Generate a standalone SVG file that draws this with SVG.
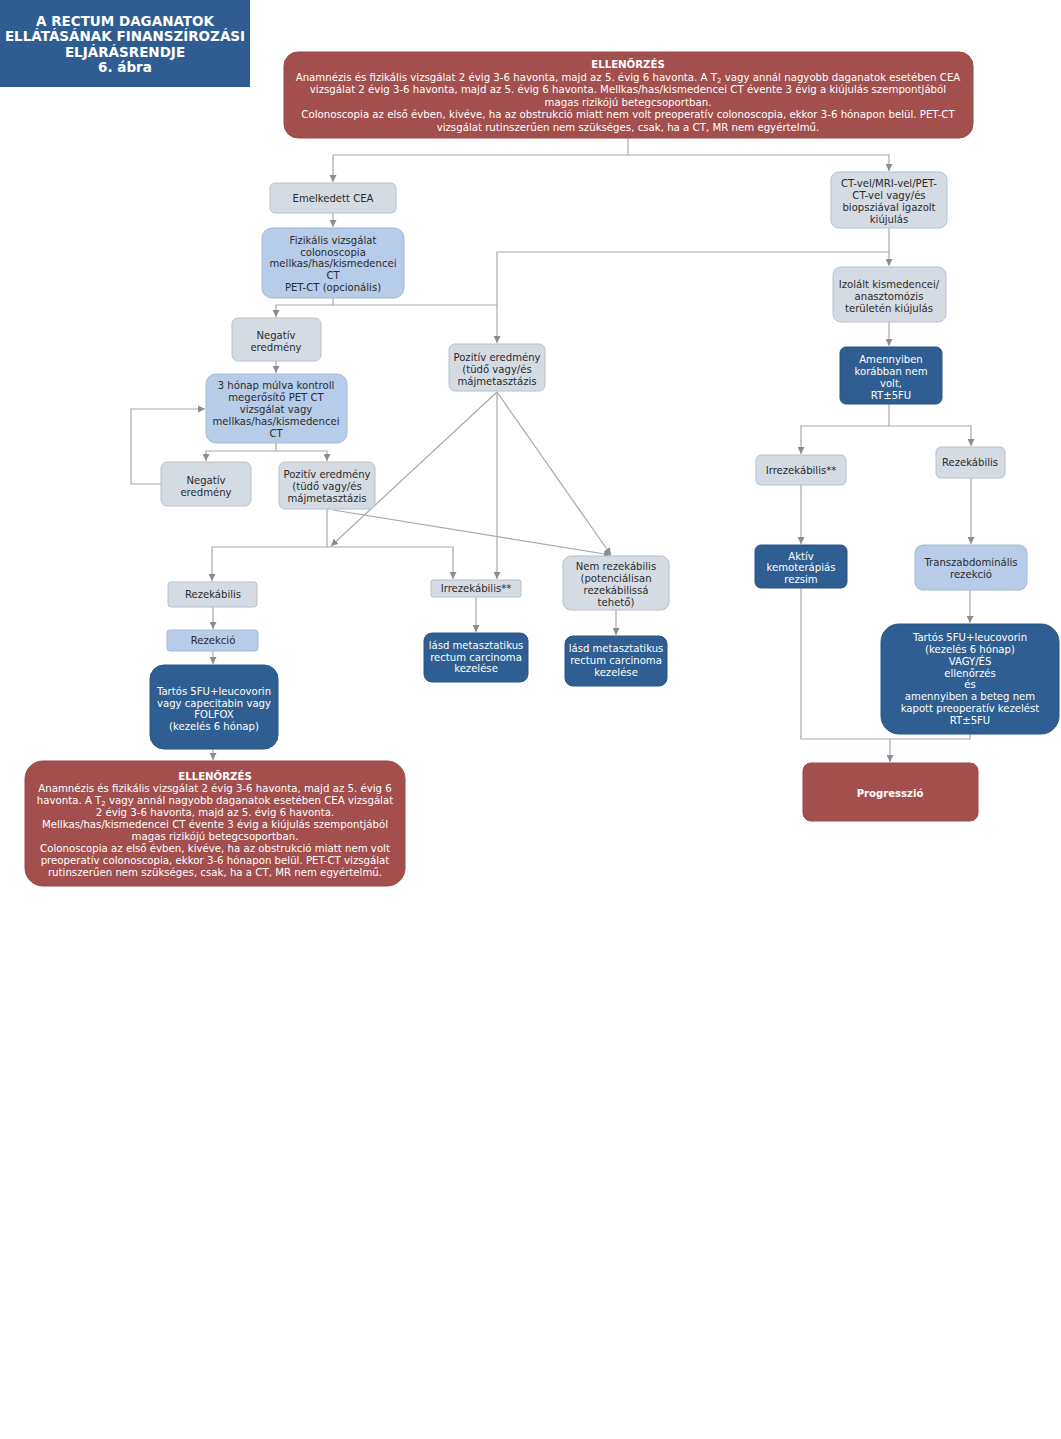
<svg xmlns="http://www.w3.org/2000/svg" width="1061" height="1439" viewBox="0 0 1061 1439">
<style>
text{font-family:"DejaVu Sans","Liberation Sans",sans-serif;text-anchor:middle}
.t{font-size:10.1px;fill:#2b2b2b}
.w{font-size:10.1px;fill:#ffffff}
.r{font-size:10.2px;fill:#ffffff}
.b{font-weight:bold}
.title{font-size:13.5px;font-weight:bold;fill:#ffffff}
.gray{fill:#D5DBE3;stroke:#B7C0CB;stroke-width:1}
.lb{fill:#B6CCE8;stroke:#A3BAD6;stroke-width:1}
.db{fill:#2F5E92;stroke:#2A5584;stroke-width:1}
.red{fill:#A24F4E;stroke:#9A4948;stroke-width:1}
.c{fill:none;stroke:#A8A8A8;stroke-width:1.2}
.a{marker-end:url(#ah)}
</style>
<defs>
<marker id="ah" viewBox="0 0 10 10" refX="10" refY="5" markerWidth="7" markerHeight="7" orient="auto" markerUnits="userSpaceOnUse">
<path d="M0,0 L10,5 L0,10 z" fill="#8C8C8C"/>
</marker>
</defs>
<rect width="1061" height="1439" fill="#ffffff"/>

<g id="title">
<rect x="0" y="0" width="250" height="87" fill="#2F5D91"/>
<text class="title" x="125" y="26">A RECTUM DAGANATOK</text>
<text class="title" x="125" y="41">ELLÁTÁSÁNAK FINANSZÍROZÁSI</text>
<text class="title" x="125" y="57">ELJÁRÁSRENDJE</text>
<text class="title" x="125" y="72">6. ábra</text>
</g>

<g id="connectors">
<path class="c" d="M628,138 V155"/>
<path class="c a" d="M628,155 H333 V182"/>
<path class="c a" d="M628,155 H889 V171"/>
<path class="c a" d="M333,213 V227"/>
<path class="c" d="M333,298 V305 H497"/>
<path class="c a" d="M333,305 H276 V317"/>
<path class="c a" d="M889,228 V266"/>
<path class="c a" d="M889,252 H497 V343"/>
<path class="c a" d="M276,361 V373"/>
<path class="c a" d="M276,443 V451 H206 V461"/>
<path class="c a" d="M276,451 H327 V461"/>
<path class="c a" d="M161,484 H131 V409 H205"/>
<path class="c a" d="M327,509 V547 H212 V581"/>
<path class="c a" d="M327,547 H453 V579"/>
<path class="c a" d="M333,510 L611,555"/>
<path class="c a" d="M497,392 L331,546"/>
<path class="c a" d="M497,392 V579"/>
<path class="c a" d="M497,392 L611,555"/>
<path class="c a" d="M476,597 V632"/>
<path class="c a" d="M616,610 V635"/>
<path class="c a" d="M213,607 V629"/>
<path class="c a" d="M213,651 V664"/>
<path class="c a" d="M213,749 V760"/>
<path class="c a" d="M889,322 V346"/>
<path class="c" d="M889,404 V426"/>
<path class="c a" d="M889,426 H801 V454"/>
<path class="c a" d="M889,426 H971 V446"/>
<path class="c a" d="M801,485 V544"/>
<path class="c a" d="M971,478 V544"/>
<path class="c a" d="M970,590 V623"/>
<path class="c" d="M801,588 V739 H970 V734"/>
<path class="c a" d="M890,739 V762"/>
</g>

<g id="n-ellenorzes-top">
<rect class="red" x="284" y="52" width="689" height="86" rx="14"/>
<text class="r b" x="628" y="68">ELLENŐRZÉS</text>
<text class="r" x="628" y="80.6">Anamnézis és fizikális vizsgálat 2 évig 3-6 havonta, majd az 5. évig 6 havonta. A T<tspan font-size="7" dy="2">2</tspan><tspan dy="-2"> vagy annál nagyobb daganatok esetében CEA</tspan></text>
<text class="r" x="628" y="93.2">vizsgálat  2 évig 3-6 havonta, majd az 5. évig 6 havonta. Mellkas/has/kismedencei CT évente 3 évig a kiújulás szempontjából</text>
<text class="r" x="628" y="105.8">magas rizikójú betegcsoportban.</text>
<text class="r" x="628" y="118.4">Colonoscopia az első évben, kivéve, ha az obstrukció miatt nem volt preoperatív colonoscopia, ekkor 3-6 hónapon belül. PET-CT</text>
<text class="r" x="628" y="131">vizsgálat rutinszerűen nem szükséges, csak, ha a CT, MR nem egyértelmű.</text>
</g>

<g id="n-emelkedett-cea">
<rect class="gray" x="270" y="183" width="126" height="30" rx="5"/>
<text class="t" x="333" y="202">Emelkedett CEA</text>
</g>

<g id="n-fizikalis">
<rect class="lb" x="262" y="228" width="142" height="70" rx="10"/>
<text class="t" x="333" y="244">Fizikális vizsgálat</text>
<text class="t" x="333" y="256">colonoscopia</text>
<text class="t" x="333" y="267">mellkas/has/kismedencei</text>
<text class="t" x="333" y="279">CT</text>
<text class="t" x="333" y="291">PET-CT (opcionális)</text>
</g>

<g id="n-ct-mri">
<rect class="gray" x="831" y="172" width="116" height="56" rx="8"/>
<text class="t" x="889" y="187">CT-vel/MRI-vel/PET-</text>
<text class="t" x="889" y="199">CT-vel vagy/és</text>
<text class="t" x="889" y="211">biopsziával igazolt</text>
<text class="t" x="889" y="223">kiújulás</text>
</g>

<g id="n-izolalt">
<rect class="gray" x="833" y="267" width="113" height="55" rx="8"/>
<text class="t" x="889" y="288">Izolált kismedencei/</text>
<text class="t" x="889" y="300">anasztomózis</text>
<text class="t" x="889" y="312">területén kiújulás</text>
</g>

<g id="n-amennyiben">
<rect class="db" x="840" y="347" width="102" height="57" rx="6"/>
<text class="w" x="891" y="363">Amennyiben</text>
<text class="w" x="891" y="375">korábban nem</text>
<text class="w" x="891" y="387">volt,</text>
<text class="w" x="891" y="399">RT±5FU</text>
</g>

<g id="n-negativ-1">
<rect class="gray" x="232" y="318" width="89" height="43" rx="6"/>
<text class="t" x="276" y="339">Negatív</text>
<text class="t" x="276" y="351">eredmény</text>
</g>

<g id="n-3honap">
<rect class="lb" x="206" y="374" width="141" height="69" rx="10"/>
<text class="t" x="276" y="389">3 hónap múlva kontroll</text>
<text class="t" x="276" y="401">megerősítő PET CT</text>
<text class="t" x="276" y="413">vizsgálat vagy</text>
<text class="t" x="276" y="425">mellkas/has/kismedencei</text>
<text class="t" x="276" y="437">CT</text>
</g>

<g id="n-pozitiv-mid">
<rect class="gray" x="449" y="344" width="96" height="47" rx="6"/>
<text class="t" x="497" y="361">Pozitív eredmény</text>
<text class="t" x="497" y="373">(tüdő vagy/és</text>
<text class="t" x="497" y="385">májmetasztázis</text>
</g>

<g id="n-negativ-2">
<rect class="gray" x="161" y="462" width="90" height="44" rx="6"/>
<text class="t" x="206" y="484">Negatív</text>
<text class="t" x="206" y="496">eredmény</text>
</g>

<g id="n-pozitiv-left">
<rect class="gray" x="279" y="462" width="96" height="47" rx="6"/>
<text class="t" x="327" y="478">Pozitív eredmény</text>
<text class="t" x="327" y="490">(tüdő vagy/és</text>
<text class="t" x="327" y="502">májmetasztázis</text>
</g>

<g id="n-rezekabilis-left">
<rect class="gray" x="168" y="582" width="89" height="25" rx="3"/>
<text class="t" x="213" y="598">Rezekábilis</text>
</g>

<g id="n-rezekcio">
<rect class="lb" x="167" y="630" width="91" height="21" rx="3"/>
<text class="t" x="213" y="644">Rezekció</text>
</g>

<g id="n-tartos-left">
<rect class="db" x="150" y="665" width="128" height="84" rx="14"/>
<text class="w" x="214" y="695">Tartós 5FU+leucovorin</text>
<text class="w" x="214" y="707">vagy capecitabin vagy</text>
<text class="w" x="214" y="718">FOLFOX</text>
<text class="w" x="214" y="730">(kezelés 6 hónap)</text>
</g>

<g id="n-ellenorzes-bottom">
<rect class="red" x="25" y="761" width="380" height="125" rx="18"/>
<text class="r b" x="215" y="779.5">ELLENŐRZÉS</text>
<text class="r" x="215" y="791.6">Anamnézis és fizikális vizsgálat 2 évig 3-6 havonta, majd az 5. évig 6</text>
<text class="r" x="215" y="803.7">havonta. A T<tspan font-size="7" dy="2">2</tspan><tspan dy="-2"> vagy annál nagyobb daganatok esetében CEA vizsgálat</tspan></text>
<text class="r" x="215" y="815.8">2 évig 3-6 havonta, majd az 5. évig 6 havonta.</text>
<text class="r" x="215" y="827.9">Mellkas/has/kismedencei CT évente 3 évig a kiújulás szempontjából</text>
<text class="r" x="215" y="840">magas rizikójú betegcsoportban.</text>
<text class="r" x="215" y="852.1"> Colonoscopia az első évben, kivéve, ha az obstrukció miatt nem volt</text>
<text class="r" x="215" y="864.2">preoperatív colonoscopia, ekkor 3-6 hónapon belül. PET-CT vizsgálat</text>
<text class="r" x="215" y="876.3">rutinszerűen nem szükséges, csak, ha a CT, MR nem egyértelmű.</text>
</g>

<g id="n-irrezekabilis-mid">
<rect class="gray" x="431" y="580" width="90" height="17" rx="2"/>
<text class="t" x="476" y="592">Irrezekábilis**</text>
</g>

<g id="n-nem-rezekabilis">
<rect class="gray" x="563" y="556" width="106" height="54" rx="8"/>
<text class="t" x="616" y="570">Nem rezekábilis</text>
<text class="t" x="616" y="582">(potenciálisan</text>
<text class="t" x="616" y="594">rezekábilissá</text>
<text class="t" x="616" y="606">tehető)</text>
</g>

<g id="n-lasd-1">
<rect class="db" x="424" y="633" width="104" height="49" rx="8"/>
<text class="w" x="476" y="649">lásd metasztatikus</text>
<text class="w" x="476" y="661">rectum carcinoma</text>
<text class="w" x="476" y="672">kezelése</text>
</g>

<g id="n-lasd-2">
<rect class="db" x="565" y="636" width="102" height="50" rx="8"/>
<text class="w" x="616" y="652">lásd metasztatikus</text>
<text class="w" x="616" y="664">rectum carcinoma</text>
<text class="w" x="616" y="676">kezelése</text>
</g>

<g id="n-irrezekabilis-right">
<rect class="gray" x="756" y="455" width="90" height="30" rx="5"/>
<text class="t" x="801" y="474">Irrezekábilis**</text>
</g>

<g id="n-rezekabilis-right">
<rect class="gray" x="936" y="447" width="69" height="31" rx="5"/>
<text class="t" x="970" y="466">Rezekábilis</text>
</g>

<g id="n-aktiv">
<rect class="db" x="755" y="545" width="92" height="43" rx="6"/>
<text class="w" x="801" y="560">Aktív</text>
<text class="w" x="801" y="571">kemoterápiás</text>
<text class="w" x="801" y="583">rezsim</text>
</g>

<g id="n-transzabdominalis">
<rect class="lb" x="915" y="545" width="112" height="45" rx="8"/>
<text class="t" x="971" y="566">Transzabdominális</text>
<text class="t" x="971" y="578">rezekció</text>
</g>

<g id="n-tartos-right">
<rect class="db" x="881" y="624" width="178" height="110" rx="18"/>
<text class="w" x="970" y="641">Tartós 5FU+leucovorin</text>
<text class="w" x="970" y="653">(kezelés 6 hónap)</text>
<text class="w" x="970" y="665">VAGY/ÉS</text>
<text class="w" x="970" y="677">ellenőrzés</text>
<text class="w" x="970" y="688">és</text>
<text class="w" x="970" y="700">amennyiben a beteg nem</text>
<text class="w" x="970" y="712">kapott preoperatív kezelést</text>
<text class="w" x="970" y="724">RT±5FU</text>
</g>

<g id="n-progresszio">
<rect class="red" x="803" y="763" width="175" height="58" rx="8"/>
<text class="w b" x="890" y="797">Progresszió</text>
</g>
</svg>
